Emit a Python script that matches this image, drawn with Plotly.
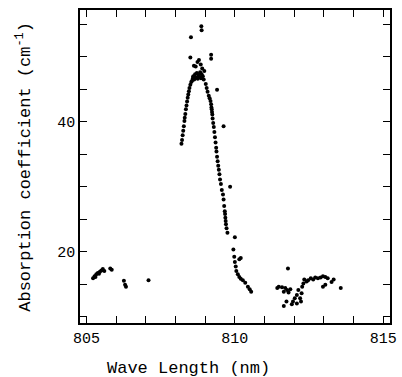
import plotly.graph_objects as go

# Wavelength (nm) and absorption coefficient (cm^-1)
left_x = [805.22, 805.27, 805.30, 805.33, 805.38, 805.42, 805.45, 805.50, 805.55, 805.60, 805.80, 805.85,
          806.26, 806.30, 806.33, 807.09]
left_y = [15.9, 16.2, 16.1, 16.5, 16.7, 16.6, 16.9, 17.1, 17.3, 17.0, 17.4, 17.2,
          15.5, 14.9, 14.6, 15.6]

rise_x = [808.20, 808.22, 808.24, 808.26, 808.28, 808.30, 808.31, 808.33, 808.35, 808.37, 808.39,
          808.41, 808.43, 808.45, 808.47, 808.50, 808.53, 808.56, 808.58, 808.60]
rise_y = [36.6, 37.2, 37.9, 38.6, 39.3, 40.1, 40.6, 41.2, 41.9, 42.5, 43.1,
          43.7, 44.2, 44.7, 45.2, 45.7, 46.1, 46.3, 46.6, 46.9]

peak_x = [808.60, 808.63, 808.66, 808.70, 808.72, 808.75, 808.78, 808.80, 808.83, 808.86, 808.88,
          808.90, 808.92, 808.95, 808.97, 808.68, 808.74, 808.79, 808.85, 808.62,
          808.52, 808.87, 808.88, 808.50, 809.20, 809.20]
peak_y = [47.0, 46.5, 47.3, 46.8, 47.5, 46.6, 47.2, 46.9, 47.6, 46.7, 47.3,
          48.2, 47.0, 46.5, 47.8, 48.5, 49.2, 49.5, 48.8, 48.6,
          53.0, 54.7, 54.1, 49.9, 50.3, 49.7]

fall_x = [809.02, 809.05, 809.08, 809.12, 809.15, 809.18, 809.20, 809.21, 809.22, 809.23, 809.24,
          809.25, 809.27, 809.29, 809.31, 809.33, 809.35, 809.37, 809.38, 809.40, 809.42,
          809.44, 809.46, 809.48, 809.50, 809.53, 809.56, 809.60, 809.62, 809.64, 809.66,
          809.67, 809.68, 809.69, 809.70, 809.72, 809.75, 809.95, 809.98, 810.00, 810.03,
          810.05, 810.10, 810.15, 810.20, 810.27, 810.35, 810.44, 810.50, 810.55]
fall_y = [45.8, 45.2, 44.6, 44.0, 43.6, 43.2, 42.7, 42.2, 41.9, 41.5, 41.1,
          40.5, 39.8, 39.2, 38.4, 37.6, 36.8, 36.0, 35.4, 34.6, 33.9,
          33.2, 32.6, 31.9, 31.1, 30.4, 29.5, 28.8, 28.0, 27.0, 26.2,
          25.8, 25.2, 24.7, 24.2, 23.6, 22.9, 20.3, 19.2, 18.4, 17.7,
          17.0, 16.5, 16.1, 15.8, 15.6, 15.2, 14.6, 14.2, 13.8]

outl_x = [809.40, 809.62, 809.84, 810.00, 810.15, 810.20]
outl_y = [44.9, 39.3, 30.0, 22.2, 18.8, 19.0]

right_x = [811.43, 811.48, 811.59, 811.65, 811.70, 811.76, 811.81, 811.87, 811.79, 811.65, 811.74,
           811.92, 811.96, 812.02, 812.09, 812.09, 812.14, 812.20, 812.23, 812.25, 812.27,
           812.31, 812.34, 812.42, 812.47, 812.56, 812.64, 812.71, 812.80, 812.89, 812.97,
           813.05, 813.13, 812.97, 813.05, 813.26, 813.33, 813.57]
right_y = [14.4, 14.6, 14.5, 13.8, 14.4, 14.1, 13.7, 14.2, 17.4, 11.6, 12.3,
           11.9, 12.3, 12.8, 12.0, 13.3, 14.1, 12.8, 12.3, 13.6, 14.6,
           15.1, 15.7, 15.4, 15.6, 15.9, 15.7, 16.0, 15.9, 16.0, 16.2,
           16.1, 15.9, 14.6, 14.9, 15.3, 15.7, 14.4]

x_all = left_x + rise_x + peak_x + fall_x + outl_x + right_x
y_all = left_y + rise_y + peak_y + fall_y + outl_y + right_y

x_ticks = [805, 810, 815]
y_ticks = [20, 40]

FONT = "Liberation Mono"

fig = go.Figure()
fig.add_trace(go.Scatter(x=x_all, y=y_all, mode="markers",
                         marker=dict(color="black", size=4, line=dict(width=0)),
                         showlegend=False))

axis_common = dict(showgrid=False, zeroline=False, showline=True, linecolor="black",
                   linewidth=1.5, mirror="allticks", ticks="inside", ticklen=7,
                   tickwidth=1, tickcolor="black",
                   tickfont=dict(family=FONT, size=15, color="black"))

fig.update_xaxes(range=[804.78, 815.23], tickvals=x_ticks, ticktext=[str(v) for v in x_ticks],
                 minor=dict(dtick=1, tick0=805, ticks="inside", ticklen=7, tickcolor="black"),
                 **axis_common)
fig.update_yaxes(range=[9.0, 57.2], tickvals=y_ticks, ticktext=[str(v) for v in y_ticks],
                 minor=dict(dtick=5, tick0=0, ticks="inside", ticklen=7, tickcolor="black"),
                 **axis_common)

fig.add_annotation(text="Wave Length (nm)", x=0.35, y=-0.144, xref="paper", yref="paper",
                   xanchor="center", yanchor="middle", showarrow=False,
                   font=dict(family=FONT, size=17, color="black"))
fig.add_annotation(text="Absorption coefficient (cm<sup>-1</sup>)", x=-0.183, y=0.5,
                   xref="paper", yref="paper", textangle=-90,
                   xanchor="center", yanchor="middle", showarrow=False,
                   font=dict(family=FONT, size=17, color="black"))

fig.update_layout(width=402, height=377, margin=dict(l=80, r=5, t=10, b=54),
                  paper_bgcolor="white", plot_bgcolor="white")

fig.write_html("out.html")
